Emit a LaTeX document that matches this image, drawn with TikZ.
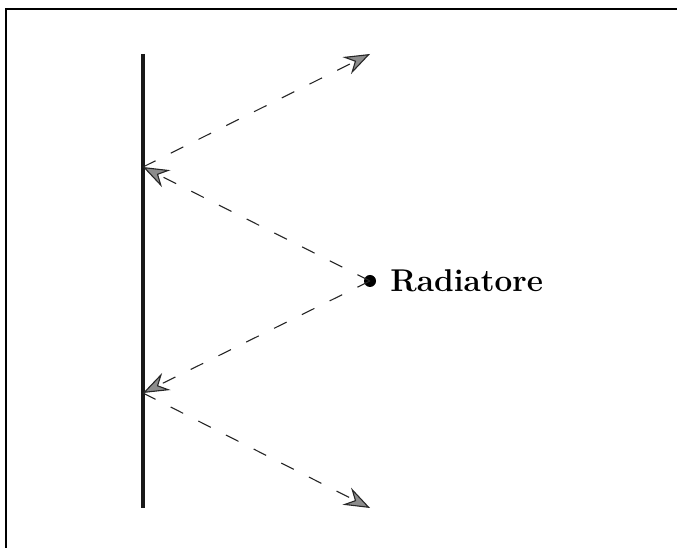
\documentclass[tikz,border=0pt]{standalone}
\usepackage{tikz}
\usetikzlibrary{arrows.meta, positioning}

\begin{document}
\begin{tikzpicture}[
    x=1pt, y=1pt,
    wall/.style={line width=4.5pt, draw=black!90},
    frameline/.style={line width=2pt, draw=black},
    ray/.style={-{Stealth[length=26pt, width=19pt, inset=9pt, fill=black!45]}, line width=1.1pt, draw=black!85, dash pattern=on 14pt off 17pt},
    source/.style={circle, fill=black, inner sep=0pt, minimum size=12pt},
    lab/.style={font=\fontsize{31.5}{36}\selectfont\bfseries, inner sep=0pt}
]
\useasboundingbox (0,0) rectangle (677,548);

% Frame (only top and left edges are visible)
\draw[frameline] (6,0) -- (6,539) -- (677,539);

% Mirror wall
\coordinate (wall_top) at (143,494);
\coordinate (wall_bot) at (143,40);
\draw[wall] (wall_top) -- (wall_bot);

% Source and label
\node[source] (radiatore) at (370,267) {};
\node[lab, right=14pt of radiatore] (radiatore_lab) {Radiatore};

% Reflection points and outgoing ends
\coordinate (refl_up) at (143,381);
\coordinate (refl_down) at (143,155);
\coordinate (end_up) at (370,494);
\coordinate (end_down) at (370,40);

% Rays
\draw[ray] (radiatore.center) -- (refl_up);
\draw[ray] (refl_up) -- (end_up);
\draw[ray] (radiatore.center) -- (refl_down);
\draw[ray] (refl_down) -- (end_down);

\end{tikzpicture}
\end{document}
